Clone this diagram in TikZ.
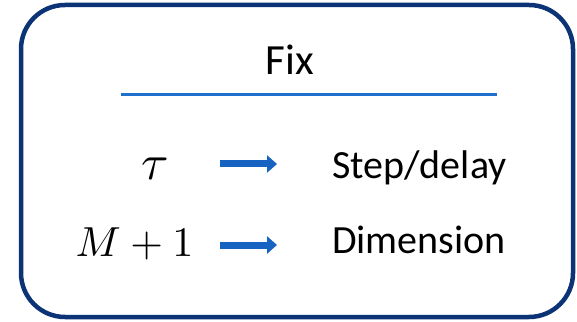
\documentclass[tikz,border=0pt]{standalone}
\usepackage{graphicx}
\usepackage{fontspec}
\setmainfont{Carlito}
\usetikzlibrary{arrows.meta}
\definecolor{frameblue}{HTML}{0B3375}
\definecolor{ruleblue}{HTML}{1F70CC}
\definecolor{arrowblue}{HTML}{1763C2}
\newcommand{\bigmath}[2][4.2]{\scalebox{#1}{\fontsize{10}{12}\selectfont$#2$}}
\tikzset{
  frame/.style={draw=frameblue, line width=4.5pt, rounded corners=44pt},
  label/.style={font=\fontsize{40}{44}\selectfont, inner sep=0pt},
  pointer/.style={draw=arrowblue, line width=7pt,
    -{Triangle[length=10pt,width=17pt]}}
}
\begin{document}
\begin{tikzpicture}[x=1pt,y=1pt]
  \useasboundingbox (0,0) rectangle (577,321);
  % outer frame
  \draw[frame] (21,4) rectangle (573,316);
  % heading and rule
  \node[label, font=\fontsize{43}{47}\selectfont, anchor=base] (fix) at (290,246) {Fix};
  \coordinate (ruleL) at (121,226.5);
  \coordinate (ruleR) at (497,226.5);
  \draw[ruleblue, line width=3pt] (ruleL) -- (ruleR);
  % first row
  \node[label, anchor=base] (tau) at (155,141) {\bigmath[5]{\tau}};
  \coordinate (a1s) at (220,157);
  \coordinate (a1e) at (277,157);
  \draw[pointer] (a1s) -- (a1e);
  \node[label, anchor=base west] (step) at (332,142) {Step/delay};
  % second row
  \node[label, anchor=base] (mplus) at (134.5,65) {\bigmath{M+1}};
  \coordinate (a2s) at (220,76);
  \coordinate (a2e) at (277,76);
  \draw[pointer] (a2s) -- (a2e);
  \node[label, anchor=base west] (dim) at (332,68) {Dimension};
\end{tikzpicture}
\end{document}
